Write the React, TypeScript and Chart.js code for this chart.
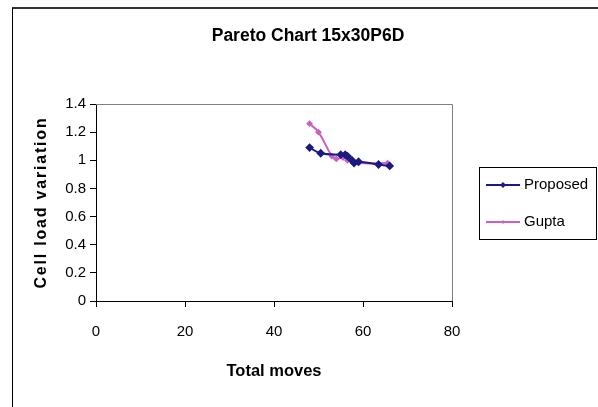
import React, { useEffect, useRef } from "react";
import { Chart, registerables } from "chart.js";

Chart.register(...registerables);

const chartTitle = "Pareto Chart 15x30P6D";
const xTitle = "Total moves";
const yTitle = "Cell load variation";

const proposedX = [48, 50.5, 55, 56, 56.5, 57.5, 58, 59, 63.5, 66];
const proposedY = [1.09, 1.05, 1.04, 1.04, 1.03, 1.0, 0.98, 0.99, 0.97, 0.96];

const guptaX = [48, 50, 53, 54, 55.5, 56.5, 59, 65.5];
const guptaY = [1.26, 1.2, 1.03, 1.01, 1.02, 1.0, 0.98, 0.98];

const seriesNames = ["Proposed", "Gupta"];
const seriesColors = ["#1a1a80", "#cc60c4"];

const xTicks = [0, 20, 40, 60, 80];
const yTicks = [0, 0.2, 0.4, 0.6, 0.8, 1, 1.2, 1.4];

const FONT = "'Liberation Sans', Arial, sans-serif";

const decorPlugin = {
  id: "decor",
  beforeDatasetsDraw(chart: any) {
    const { ctx, chartArea } = chart;
    ctx.save();
    ctx.strokeStyle = "#808080";
    ctx.lineWidth = 1;
    ctx.beginPath();
    ctx.moveTo(chartArea.left, chartArea.top + 0.5);
    ctx.lineTo(chartArea.right + 0.5, chartArea.top + 0.5);
    ctx.lineTo(chartArea.right + 0.5, chartArea.bottom);
    ctx.stroke();
    ctx.restore();
  },
  afterDraw(chart: any) {
    const { ctx, chartArea } = chart;
    ctx.save();
    ctx.fillStyle = "#000";
    ctx.textBaseline = "middle";
    ctx.textAlign = "center";
    // title
    ctx.font = `bold 17.5px ${FONT}`;
    ctx.fillText(chartTitle, 308, 36);
    // x title
    ctx.font = `bold 16.5px ${FONT}`;
    ctx.fillText(xTitle, (chartArea.left + chartArea.right) / 2, 371);
    // y title
    ctx.save();
    ctx.translate(42, (chartArea.top + chartArea.bottom) / 2);
    ctx.rotate(-Math.PI / 2);
    ctx.font = `bold 16px ${FONT}`;
    try {
      (ctx as any).letterSpacing = "1.8px";
    } catch (e) {}
    ctx.fillText(yTitle, 0, 0);
    ctx.restore();

    // legend
    const lx = 479.5, ly = 167.5, lw = 117, lh = 72;
    ctx.strokeStyle = "#000";
    ctx.lineWidth = 1;
    ctx.strokeRect(lx, ly, lw, lh);
    const rows = [185, 222];
    ctx.font = `15px ${FONT}`;
    ctx.textAlign = "left";
    seriesNames.forEach((name, i) => {
      const y = rows[i];
      ctx.strokeStyle = seriesColors[i];
      ctx.lineWidth = 2;
      ctx.beginPath();
      ctx.moveTo(486, y);
      ctx.lineTo(520, y);
      ctx.stroke();
      ctx.fillStyle = seriesColors[i];
      ctx.beginPath();
      const r = i === 0 ? 3 : 2;
      ctx.moveTo(503, y - r);
      ctx.lineTo(503 + r, y);
      ctx.lineTo(503, y + r);
      ctx.lineTo(503 - r, y);
      ctx.closePath();
      ctx.fill();
      ctx.fillStyle = "#000";
      ctx.fillText(name, 524, y);
    });
    ctx.restore();
  },
};

export default function App() {
  const ref = useRef<HTMLCanvasElement | null>(null);
  useEffect(() => {
    if (!ref.current) return;
    const chart = new Chart(ref.current, {
      type: "line",
      data: {
        datasets: [
          {
            label: seriesNames[0],
            data: proposedX.map((x, i) => ({ x, y: proposedY[i] })),
            borderColor: seriesColors[0],
            backgroundColor: seriesColors[0],
            borderWidth: 2,
            pointStyle: "rectRot",
            pointRadius: 3,
            tension: 0.4,
          },
          {
            label: seriesNames[1],
            data: guptaX.map((x, i) => ({ x, y: guptaY[i] })),
            borderColor: seriesColors[1],
            backgroundColor: seriesColors[1],
            borderWidth: 2,
            pointStyle: "rectRot",
            pointRadius: 2,
            tension: 0.4,
          },
        ],
      },
      options: {
        responsive: false,
        animation: false,
        layout: { padding: { left: 0, right: 146, top: 104, bottom: 16 } },
        plugins: { legend: { display: false }, title: { display: false }, tooltip: { enabled: false } },
        scales: {
          x: {
            type: "linear",
            min: 0,
            max: 80,
            afterBuildTicks: (s: any) => {
              s.ticks = xTicks.map((v) => ({ value: v }));
            },
            afterFit: (s: any) => {
              s.height = 90;
            },
            grid: { drawOnChartArea: false, drawTicks: true, tickLength: 6, color: "#000" },
            border: { color: "#000", width: 1 },
            ticks: {
              color: "#000",
              font: { family: FONT, size: 15 },
              padding: 16,
              maxRotation: 0,
              callback: (v: any) => String(v),
            },
          },
          y: {
            type: "linear",
            min: 0,
            max: 1.4,
            afterBuildTicks: (s: any) => {
              s.ticks = yTicks.map((v) => ({ value: v }));
            },
            afterFit: (s: any) => {
              s.width = 96;
            },
            grid: { drawOnChartArea: false, drawTicks: true, tickLength: 6, color: "#000" },
            border: { color: "#000", width: 1 },
            ticks: {
              color: "#000",
              font: { family: FONT, size: 15 },
              padding: 4,
              callback: (v: any) => String(Math.round(Number(v) * 10) / 10),
            },
          },
        },
      },
      plugins: [decorPlugin],
    });
    return () => chart.destroy();
  }, []);
  return (
    <div style={{ position: "fixed", left: 0, top: 0, width: 598, height: 407, overflow: "hidden", background: "#fff" }}>
      <div
        style={{
          position: "absolute",
          left: 12,
          top: 7,
          width: 620,
          height: 440,
          borderLeft: "1px solid #000",
          borderTop: "2px solid #333",
        }}
      />
      <canvas ref={ref} width={598} height={407} style={{ position: "absolute", left: 0, top: 0, display: "block" }} />
    </div>
  );
}
